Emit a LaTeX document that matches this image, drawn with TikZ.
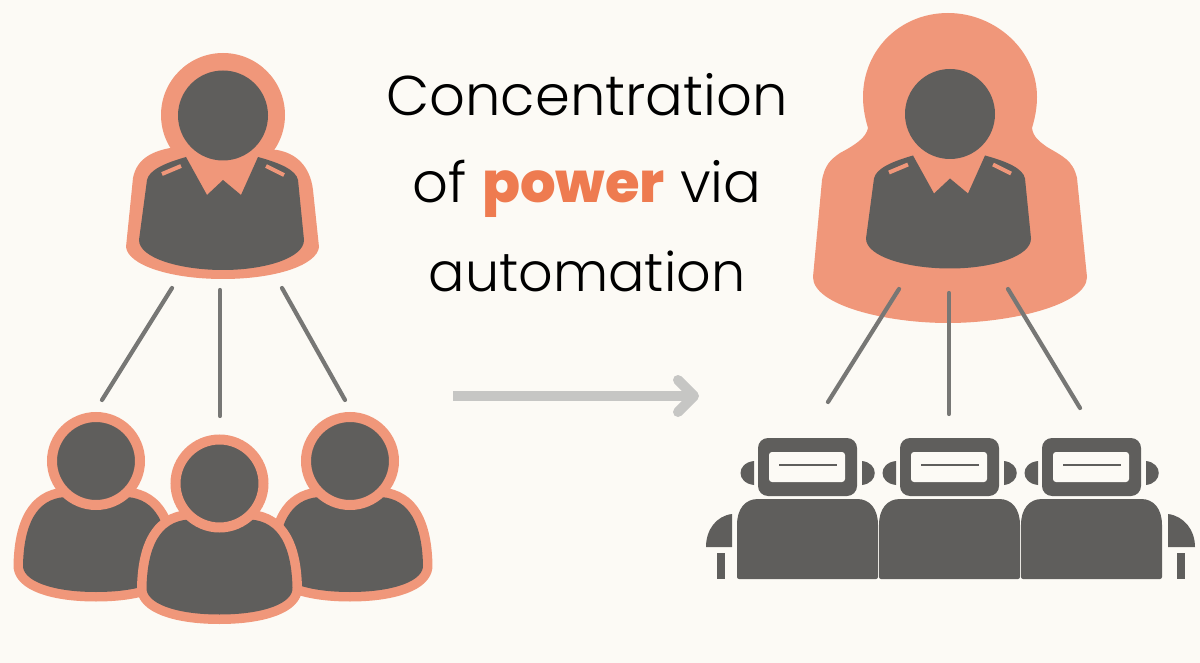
\documentclass[tikz,border=0pt]{standalone}
\usepackage{xcolor}
\usepackage{fontspec}
\setmainfont[UprightFont=* Light, BoldFont=* ExtraBold]{Poppins}
\usetikzlibrary{arrows.meta}
\definecolor{paper}{HTML}{FCFAF5}
\definecolor{halo}{HTML}{F0977A}
\definecolor{slate}{HTML}{5F5E5C}
\definecolor{wire}{HTML}{777775}
\definecolor{arrowgray}{HTML}{C6C6C4}
\definecolor{powertext}{HTML}{EE7B50}
\tikzset{
    wireline/.style={draw=wire, line width=4.2pt, line cap=round},
    caption/.style={anchor=base, text=black, font=\fontsize{56}{60}\selectfont},
    boss/.pic={
        \fill[halo] (170,148) .. controls (155,151) and (137,157) .. (133,178) -- (126,247) .. controls (128,265) and (170,279) .. (223,279) .. controls (276,279) and (317,265) .. (319,247) -- (313,190) .. controls (310,165) and (295,153) .. (277,150) -- cycle;
        \fill[halo] (223,115) circle (62);
        \fill[slate] (186,157) -- (207,195) -- (223,180) -- (241,195) -- (258,157) .. controls (280,163) and (296,170) .. (298,180) -- (304,240) .. controls (304,258) and (265,270) .. (223,270) .. controls (180,270) and (139,258) .. (139,240) -- (147,180) .. controls (149,170) and (165,163) .. (186,157) -- cycle;
        \draw[halo, line width=4pt] (162,174) -- (181,166);
        \draw[halo, line width=4pt] (266,166) -- (284,175);
        \fill[slate] (223,115.5) circle (45);
    },
    member/.pic={
        \path[draw=halo, line width=19pt, line join=round] (65,497) .. controls (36,499) and (24,525) .. (23,565) .. controls (22,580) and (50,592) .. (96,592) .. controls (142,592) and (170,580) .. (169,565) .. controls (168,525) and (156,499) .. (127,497) -- cycle;
        \fill[slate] (65,497) .. controls (36,499) and (24,525) .. (23,565) .. controls (22,580) and (50,592) .. (96,592) .. controls (142,592) and (170,580) .. (169,565) .. controls (168,525) and (156,499) .. (127,497) -- cycle;
        \draw[halo, fill=slate, line width=10pt] (96,461) circle (44);
    },
    robot/.pic={
        \fill[slate, rounded corners=10pt] (758,438) rectangle (857,496);
        \fill[paper, rounded corners=3pt] (769,452) rectangle (845,482);
        \draw[slate, line width=1.5pt] (779,465) -- (837,465);
        \fill[slate] (754,461) .. controls (736,463) and (736,483) .. (754,485) -- cycle;
        \fill[slate] (862,461) .. controls (879,463) and (879,483) .. (862,485) -- cycle;
        \fill[slate, rounded corners=2pt] (737,579) -- (737,527) .. controls (737,509) and (745,499) .. (760,499) -- (855,499) .. controls (870,499) and (878,509) .. (878,527) -- (878,579) -- cycle;
    },
}
\begin{document}
\begin{tikzpicture}[x=1pt, y=-1pt]
    \fill[paper] (0,0) rectangle (1200,663);
    \useasboundingbox (0,0) rectangle (1200,663);

    \pic at (0,0) {boss};
    \coordinate (bossa) at (172,288);
    \coordinate (bossb) at (220,290);
    \coordinate (bossc) at (282,288);
    \coordinate (teama) at (102,400);
    \coordinate (teamb) at (220,416);
    \coordinate (teamc) at (345,400);
    \draw[wireline] (bossa) -- (teama);
    \draw[wireline] (bossb) -- (teamb);
    \draw[wireline] (bossc) -- (teamc);

    \pic at (0,0) {member};
    \pic at (254,0) {member};
    \pic at (123.5,22.5) {member};

    \node[caption] (linea) at (587,116) {Concentration};
    \node[caption] (lineb) at (587,203) {of \textcolor{powertext}{\textbf{power}} via};
    \node[caption, font=\fontsize{54}{60}\selectfont] (linec) at (587,291) {automation};

    \coordinate (before) at (453,396);
    \coordinate (after) at (699,396);
    \draw[-{Straight Barb[round, length=16pt, width=32pt, line width=10pt]}, arrowgray, line width=10pt] (before) -- (after);

    \fill[halo] (948,13) .. controls (995,13) and (1037,50) .. (1037,97) .. controls (1037,108) and (1035,118) .. (1032,128) .. controls (1033,137) and (1040,142) .. (1047,147) .. controls (1062,156) and (1073,160) .. (1077,178) -- (1087,277) .. controls (1087,305) and (1010,323) .. (948,323) .. controls (885,323) and (813,305) .. (813,277) -- (822,180) .. controls (825,165) and (830,160) .. (840,153) .. controls (855,145) and (866,138) .. (868,128) .. controls (865,118) and (863,108) .. (863,97) .. controls (863,50) and (900,13) .. (948,13) -- cycle;
    \pic at (727,-1.5) {boss};
    \coordinate (chiefa) at (899,289);
    \coordinate (chiefb) at (949,293);
    \coordinate (chiefc) at (1008,289);
    \coordinate (boxa) at (828,402);
    \coordinate (boxb) at (949,414);
    \coordinate (boxc) at (1080,408);
    \draw[wireline] (chiefa) -- (boxa);
    \draw[wireline] (chiefb) -- (boxb);
    \draw[wireline] (chiefc) -- (boxc);

    \foreach \dx in {0,142,284} {
        \pic at (\dx,0) {robot};
    }
    \fill[slate] (732,514) .. controls (716,516) and (706,530) .. (706,547) -- (732,547) -- cycle;
    \fill[slate] (717,553) rectangle (725,579);
    \fill[slate] (1168,514) .. controls (1184,516) and (1195,530) .. (1195,547) -- (1168,547) -- cycle;
    \fill[slate] (1177,553) rectangle (1185,579);
\end{tikzpicture}
\end{document}
